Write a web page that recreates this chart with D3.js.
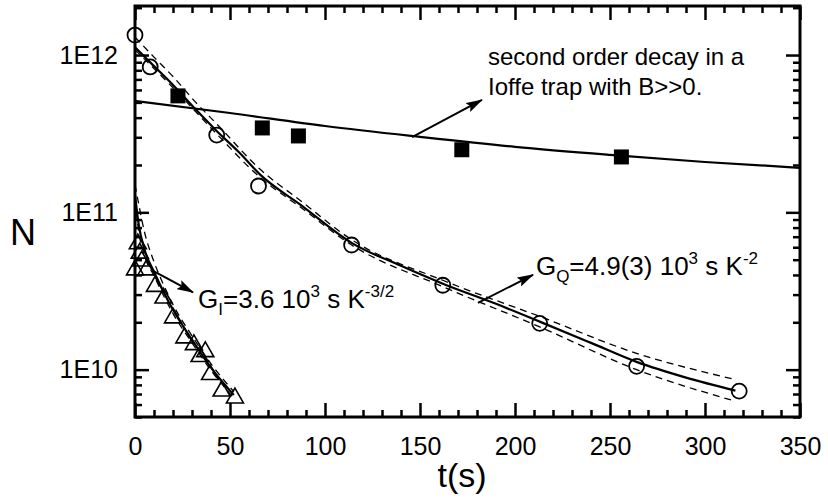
<!DOCTYPE html>
<html>
<head>
<meta charset="utf-8">
<script src="https://cdn.jsdelivr.net/npm/d3@7"></script>
<style>
  body { margin: 0; background: #fff; }
  svg { display: block; font-family: "Liberation Sans", Arial, sans-serif; }
</style>
</head>
<body>
<div id="chart"></div>
<script>
// data: t in seconds, N atoms
const circles = [[0, 1.34e12], [8, 8.4e11], [43, 3.1e11], [65, 1.47e11], [114, 6.2e10],
  [162, 3.44e10], [213, 1.97e10], [264, 1.05e10], [318, 7.3e9]];
const squares = [[22.6, 5.5e11], [67, 3.44e11], [86, 3.06e11], [172, 2.5e11], [256, 2.25e11]];
const triangles = [[0, 4.3e10], [1.5, 6.3e10], [2.5, 5.5e10], [3.5, 4.9e10], [6, 4.3e10],
  [10.5, 3.38e10], [15, 2.85e10], [20, 2.13e10], [26, 1.59e10], [31, 1.44e10],
  [34, 1.21e10], [37, 1.3e10], [39.5, 9.3e9], [45.6, 7.3e9], [52.6, 6.6e9]];

// fitted curves, read at a handful of points
const squareFit = [[0, 5.11e11], [50, 4.28e11], [100, 3.54e11], [150, 3.02e11], [200, 2.61e11],
  [250, 2.32e11], [300, 2.09e11], [350, 1.92e11]];
const circleFit = [[0, 1.12e12], [10, 8.5e11], [20, 6.45e11], [32, 4.5e11], [43, 3.29e11],
  [55, 2.39e11], [66, 1.73e11], [87, 1.12e11], [114, 6.4e10], [140, 4.57e10], [162, 3.52e10],
  [190, 2.62e10], [213, 2.02e10], [240, 1.48e10], [264, 1.12e10], [290, 8.9e9], [316, 7.36e9]];
const circleUpper = [[0, 1.3e12], [10, 9.7e11], [20, 7.3e11], [32, 5.0e11], [43, 3.65e11],
  [66, 1.87e11], [87, 1.19e11], [114, 6.7e10], [162, 3.7e10], [213, 2.18e10], [264, 1.27e10],
  [316, 8.65e9]];
const circleLower = [[0, 1.08e12], [20, 6.2e11], [43, 3.15e11], [66, 1.66e11], [87, 1.08e11],
  [114, 6.2e10], [162, 3.37e10], [213, 1.87e10], [264, 1.0e10], [316, 6.3e9]];
const triFit = [[0, 1.29e11], [2, 8.3e10], [5, 5.8e10], [10, 4.19e10], [15, 3.13e10],
  [20, 2.4e10], [30, 1.55e10], [40, 1.03e10], [52, 6.9e9]];
const triUpper = [[0, 1.5e11], [2, 1.12e11], [5, 7.5e10], [10, 4.85e10], [15, 3.47e10],
  [20, 2.59e10], [30, 1.64e10], [40, 1.09e10], [52, 7.25e9]];
const triLower = [[0, 1.2e11], [2, 7.5e10], [5, 5.3e10], [10, 3.95e10], [20, 2.27e10],
  [30, 1.48e10], [40, 9.9e9], [52, 6.6e9]];

const xTicks = [0, 50, 100, 150, 200, 250, 300, 350];
const yTicks = [1e10, 1e11, 1e12];
const yTickLabels = ["1E10", "1E11", "1E12"];

const width = 828, height = 499;
const margin = { top: 6, right: 28, bottom: 82, left: 135 };

const x = d3.scaleLinear().domain([0, 350]).range([margin.left, width - margin.right]);
const y = d3.scaleLog().domain([5.0e9, 2.05e12]).range([height - margin.bottom, margin.top]);

const svg = d3.select("#chart").append("svg")
  .attr("width", width).attr("height", height);

svg.append("defs").append("marker")
  .attr("id", "head")
  .attr("markerUnits", "userSpaceOnUse")
  .attr("viewBox", "0 0 17 10")
  .attr("refX", 16).attr("refY", 5)
  .attr("markerWidth", 17).attr("markerHeight", 10)
  .attr("orient", "auto")
  .append("path").attr("d", "M0,0L17,5L0,10L3,5Z").attr("fill", "#000");

// axes, ticks pointing inward
const xMinor = d3.range(0, 351, 10).filter(v => v % 50 !== 0);
const yMinor = [];
[9, 10, 11, 12].forEach(e => d3.range(2, 10).forEach(m => {
  const v = m * Math.pow(10, e);
  if (v >= 5.0e9 && v <= 2.05e12) yMinor.push(v);
}));

function styleAxis(g) {
  g.select(".domain").remove();
  g.selectAll(".tick line").attr("stroke", "#000").attr("stroke-width", 2.5);
  g.selectAll("text").attr("fill", "#000").attr("font-size", 25)
    .attr("font-family", "'Liberation Sans', Arial, sans-serif");
}

const yBottom = height - margin.bottom, yTop = margin.top;
const xLeft = margin.left, xRight = width - margin.right;

svg.append("g").attr("transform", `translate(0,${yBottom})`)
  .call(d3.axisBottom(x).tickValues(xTicks).tickSize(-14).tickPadding(20).tickFormat(d3.format("d")))
  .call(styleAxis);
svg.append("g").attr("transform", `translate(0,${yBottom})`)
  .call(d3.axisBottom(x).tickValues(xMinor).tickSize(-7).tickFormat(""))
  .call(styleAxis);
svg.append("g").attr("transform", `translate(0,${yTop})`)
  .call(d3.axisTop(x).tickValues(xTicks).tickSize(-14).tickFormat(""))
  .call(styleAxis);
svg.append("g").attr("transform", `translate(0,${yTop})`)
  .call(d3.axisTop(x).tickValues(xMinor).tickSize(-7).tickFormat(""))
  .call(styleAxis);

svg.append("g").attr("transform", `translate(${xLeft},0)`)
  .call(d3.axisLeft(y).tickValues(yTicks).tickSize(-14).tickPadding(17)
    .tickFormat((d, i) => yTickLabels[i]))
  .call(styleAxis);
svg.append("g").attr("transform", `translate(${xLeft},0)`)
  .call(d3.axisLeft(y).tickValues(yMinor).tickSize(-7).tickFormat(""))
  .call(styleAxis);
svg.append("g").attr("transform", `translate(${xRight},0)`)
  .call(d3.axisRight(y).tickValues(yTicks).tickSize(-14).tickFormat(""))
  .call(styleAxis);
svg.append("g").attr("transform", `translate(${xRight},0)`)
  .call(d3.axisRight(y).tickValues(yMinor).tickSize(-7).tickFormat(""))
  .call(styleAxis);

svg.append("rect")
  .attr("x", xLeft).attr("y", yTop)
  .attr("width", xRight - xLeft).attr("height", yBottom - yTop)
  .attr("fill", "none").attr("stroke", "#000").attr("stroke-width", 3);

// axis titles
svg.append("text").attr("x", 10).attr("y", 245)
  .attr("font-size", 36).text("N");
svg.append("text").attr("x", 462).attr("y", 487)
  .attr("text-anchor", "middle").attr("font-size", 34).text("t(s)");

// curves
const plot = svg.append("g");
const line = d3.line().x(d => x(d[0])).y(d => y(d[1])).curve(d3.curveMonotoneX);

[[squareFit, false], [circleFit, false], [circleUpper, true], [circleLower, true],
 [triFit, false], [triUpper, true], [triLower, true]].forEach(([data, dashed]) => {
  plot.append("path")
    .attr("d", line(data))
    .attr("fill", "none")
    .attr("stroke", "#000")
    .attr("stroke-width", dashed ? 1.3 : 2.2)
    .attr("stroke-dasharray", dashed ? "7,5" : null);
});

// markers
plot.selectAll("rect.sq").data(squares).join("rect")
  .attr("class", "sq")
  .attr("x", d => x(d[0]) - 7.5).attr("y", d => y(d[1]) - 7.5)
  .attr("width", 15).attr("height", 15)
  .attr("fill", "#000");

plot.selectAll("path.tri").data(triangles).join("path")
  .attr("class", "tri")
  .attr("d", d3.symbol(d3.symbolTriangle, 125))
  .attr("transform", d => `translate(${x(d[0])},${y(d[1])})`)
  .attr("fill", "none").attr("stroke", "#000").attr("stroke-width", 1.6);

plot.selectAll("circle.c").data(circles).join("circle")
  .attr("class", "c")
  .attr("cx", d => x(d[0])).attr("cy", d => y(d[1]))
  .attr("r", 7.5)
  .attr("fill", "none").attr("stroke", "#000").attr("stroke-width", 1.8);

// annotations
const arrow = (pts, curve) => svg.append("path")
  .attr("d", d3.line().x(d => x(d[0])).y(d => y(d[1])).curve(curve || d3.curveLinear)(pts))
  .attr("fill", "none").attr("stroke", "#000").attr("stroke-width", 2)
  .attr("marker-end", "url(#head)");

arrow([[145.8, 3.01e11], [182.6, 5.18e11]]);
arrow([[180.5, 2.66e10], [209.5, 4.01e10]]);
arrow([[9.5, 4.25e10], [18.4, 3.72e10], [30.5, 3.1e10]], d3.curveNatural);

svg.append("text").attr("x", x(185.8)).attr("y", y(8.65e11))
  .attr("font-size", 24).text("second order decay in a");
svg.append("text").attr("x", x(185.8)).attr("y", y(5.58e11))
  .attr("font-size", 24).text("Ioffe trap with B>>0.");

const gq = svg.append("text").attr("x", x(211)).attr("y", y(4.0e10)).attr("font-size", 26);
gq.append("tspan").text("G");
gq.append("tspan").attr("font-size", 17).attr("dy", 7).text("Q");
gq.append("tspan").attr("dy", -7).text("=4.9(3) 10");
gq.append("tspan").attr("font-size", 17).attr("dy", -11).text("3");
gq.append("tspan").attr("dy", 11).text(" s K");
gq.append("tspan").attr("font-size", 17).attr("dy", -11).text("-2");

const gi = svg.append("text").attr("x", x(33.2)).attr("y", y(2.48e10)).attr("font-size", 26);
gi.append("tspan").text("G");
gi.append("tspan").attr("font-size", 17).attr("dy", 7).text("I");
gi.append("tspan").attr("dy", -7).text("=3.6 10");
gi.append("tspan").attr("font-size", 17).attr("dy", -11).text("3");
gi.append("tspan").attr("dy", 11).text(" s K");
gi.append("tspan").attr("font-size", 17).attr("dy", -11).text("-3/2");
</script>
</body>
</html>
